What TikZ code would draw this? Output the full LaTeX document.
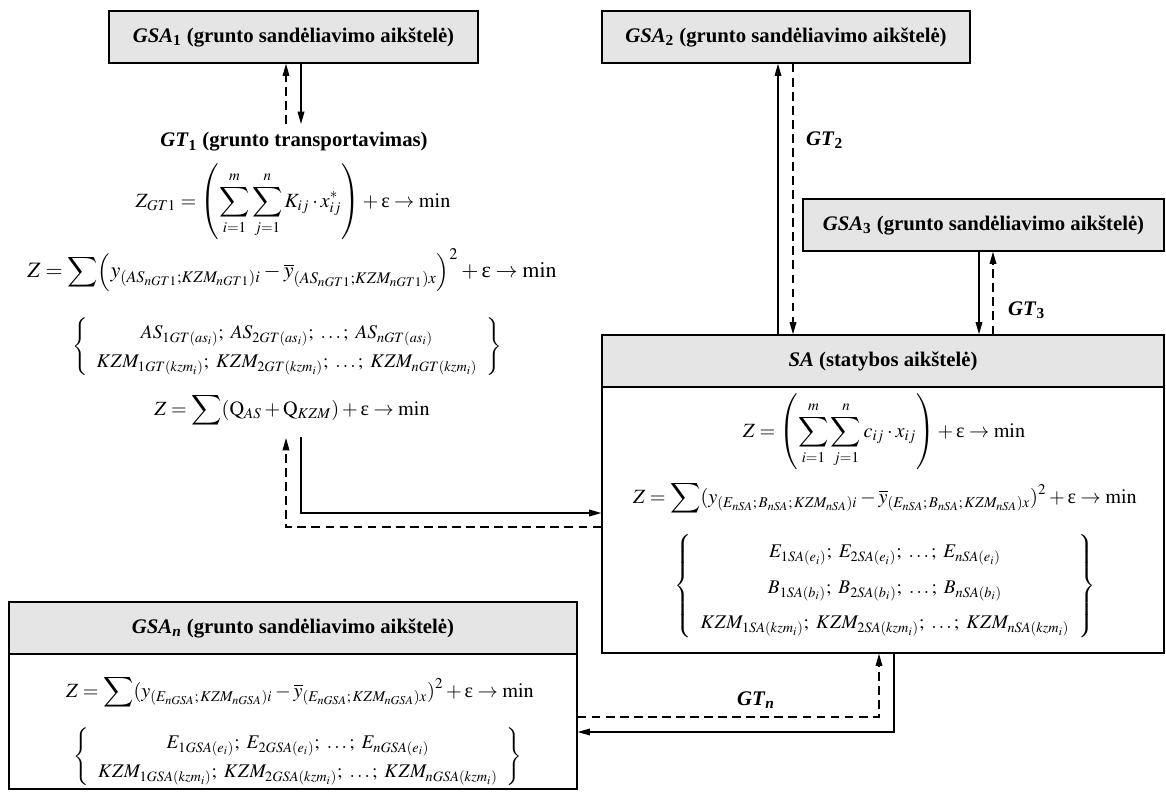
\documentclass[tikz,border=0pt]{standalone}
\usepackage{mathptmx}
\usepackage{exscale}
\DeclareSymbolFont{largesymbols}{OMX}{cmex}{m}{n}
\usepackage{fontspec}
\setmainfont{Liberation Serif}
\usetikzlibrary{arrows.meta}
\renewcommand{\arraystretch}{1.3}
\newcommand{\epsup}{\mbox{ε}}

\begin{document}
\begin{tikzpicture}[x=0.02cm, y=-0.02cm,
	font=\fontsize{11}{13}\selectfont,
	antraste/.style={draw, line width=0.8pt, fill=black!10, inner sep=0pt, minimum height=1.04cm, font=\fontsize{11.8}{14}\selectfont\bfseries},
	kunas/.style={draw, line width=0.8pt, inner sep=0pt},
	formule/.style={inner sep=1pt, font=\fontsize{11.5}{14}\selectfont},
	skliaustai/.style={inner sep=1pt, font=\fontsize{11}{13}\selectfont},
	zyme/.style={font=\fontsize{11.8}{14}\selectfont\bfseries},
	rod/.style={line width=0.75pt, -{Triangle[length=7pt,width=3.8pt]}},
	rodbr/.style={rod, dash pattern=on 5pt off 3pt}]
	\useasboundingbox (0,0) rectangle (1166,791);

	% grunto sandeliavimo aikstelės
	\node[antraste, minimum width=7.38cm] (GSA1) at (293.5,37) {\textit{GSA}\textsubscript{1} (grunto sandėliavimo aikštelė)};
	\node[antraste, minimum width=7.36cm] (GSA2) at (786,37) {\textit{GSA}\textsubscript{2} (grunto sandėliavimo aikštelė)};
	\node[antraste, minimum width=7.22cm] (GSA3) at (983.5,225) {\textit{GSA}\textsubscript{3} (grunto sandėliavimo aikštelė)};

	% statybos aikstele
	\node[antraste, minimum width=11.24cm] (SAh) at (883,361) {\textit{SA} (statybos aikštelė)};
	\node[kunas, minimum width=11.24cm, minimum height=5.32cm] (SAb) at (883,520) {};
	\node[formule] (sa1) at (884,432) {$\displaystyle Z=\left(\sum_{i=1}^{m}\sum_{j=1}^{n}c_{ij}\cdot x_{ij}\right)+\epsup\rightarrow\min$};
	\node[formule] (sa2) at (885,498) {$\displaystyle Z=\sum(y_{(E_{nSA};\,B_{nSA};\,KZM_{nSA})i}-\overline{y}_{(E_{nSA};\,B_{nSA};\,KZM_{nSA})x})^{2}+\epsup\rightarrow\min$};
	\node[skliaustai] (sa3) at (885,586) {\renewcommand{\arraystretch}{1.55}$\left\{\begin{array}{c}
		E_{1SA(e_i)};\ E_{2SA(e_i)};\ \ldots;\ E_{nSA(e_i)}\\
		B_{1SA(b_i)};\ B_{2SA(b_i)};\ \ldots;\ B_{nSA(b_i)}\\
		KZM_{1SA(kzm_i)};\ KZM_{2SA(kzm_i)};\ \ldots;\ KZM_{nSA(kzm_i)}
		\end{array}\right\}$};

	% GSAn
	\node[antraste, minimum width=11.36cm] (GSAnh) at (293,628) {\textit{GSA}\textsubscript{\textit{n}} (grunto sandėliavimo aikštelė)};
	\node[kunas, minimum width=11.36cm, minimum height=2.7cm] (GSAnb) at (293,721.5) {};
	\node[formule] (gn1) at (300,692) {$\displaystyle Z=\sum(y_{(E_{nGSA};\,KZM_{nGSA})i}-\overline{y}_{(E_{nGSA};\,KZM_{nGSA})x})^{2}+\epsup\rightarrow\min$};
	\node[skliaustai] (gn2) at (298,757) {$\left\{\begin{array}{c}
		E_{1GSA(e_i)};\ E_{2GSA(e_i)};\ \ldots;\ E_{nGSA(e_i)}\\
		KZM_{1GSA(kzm_i)};\ KZM_{2GSA(kzm_i)};\ \ldots;\ KZM_{nGSA(kzm_i)}
		\end{array}\right\}$};

	% grunto transportavimas
	\node[zyme] (GT1) at (294,142) {\textit{GT}\textsubscript{1} (grunto transportavimas)};
	\node[formule] (f1) at (293,202) {$\displaystyle Z_{GT1}=\left(\sum_{i=1}^{m}\sum_{j=1}^{n}K_{ij}\cdot x_{ij}^{*}\right)+\epsup\rightarrow\min$};
	\node[formule, font=\fontsize{12.5}{15}\selectfont] (f2) at (292,270) {$\displaystyle Z=\sum\!\left(y_{(AS_{nGT1};KZM_{nGT1})i}-\overline{y}_{(AS_{nGT1};KZM_{nGT1})x}\right)^{2}+\epsup\rightarrow\min$};
	\node[skliaustai] (f3) at (287,347) {$\left\{\begin{array}{c}
		AS_{1GT(as_i)};\ AS_{2GT(as_i)};\ \ldots;\ AS_{nGT(as_i)}\\
		KZM_{1GT(kzm_i)};\ KZM_{2GT(kzm_i)};\ \ldots;\ KZM_{nGT(kzm_i)}
		\end{array}\right\}$};
	\node[formule] (f4) at (292,410) {$\displaystyle Z=\sum(\mathrm{Q}_{AS}+\mathrm{Q}_{KZM})+\epsup\rightarrow\min$};

	% rodykles GT1
	\coordinate (gt1d) at (286,124);
	\coordinate (gt1s) at (301,124);
	\draw[rodbr] (gt1d) -- (gt1d |- GSA1.south);
	\draw[rod] (gt1s |- GSA1.south) -- (gt1s);

	% rodykles GT2
	\coordinate (gt2s) at (778,0);
	\coordinate (gt2d) at (793,0);
	\draw[rod] (gt2s |- SAh.north) -- (gt2s |- GSA2.south);
	\draw[rodbr] (gt2d |- GSA2.south) -- (gt2d |- SAh.north);
	\node[anchor=west, zyme] (GT2) at (800,140) {\textit{GT}\textsubscript{2}};

	% rodykles GT3
	\coordinate (gt3s) at (979,0);
	\coordinate (gt3d) at (993,0);
	\draw[rod] (gt3s |- GSA3.south) -- (gt3s |- SAh.north);
	\draw[rodbr] (gt3d |- SAh.north) -- (gt3d |- GSA3.south);
	\node[anchor=west, zyme] (GT3) at (1002,310) {\textit{GT}\textsubscript{3}};

	% GT1 <-> SA
	\coordinate (l1) at (301,437);
	\coordinate (l1e) at (301,513);
	\coordinate (l2) at (286,438);
	\coordinate (l2e) at (286,527);
	\draw[rod] (l1) -- (l1e) -- (l1e -| SAb.west);
	\draw[rodbr] (l2e -| SAb.west) -- (l2e) -- (l2);

	% GTn
	\coordinate (gnd) at (879,717);
	\coordinate (gns) at (894,732);
	\draw[rodbr] (gnd -| GSAnb.east) -- (gnd) -- (gnd |- SAb.south);
	\draw[rod] (gns |- SAb.south) -- (gns) -- (gns -| GSAnb.east);
	\node[zyme] (GTn) at (756,700) {\textit{GT}\textsubscript{\textit{n}}};
\end{tikzpicture}
\end{document}
